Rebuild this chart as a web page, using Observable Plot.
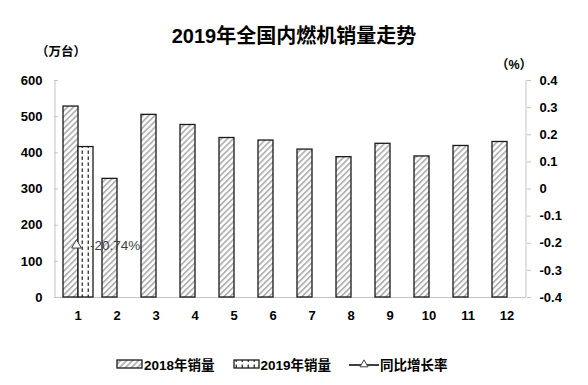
<!DOCTYPE html>
<html><head><meta charset="utf-8">
<script src="https://cdn.jsdelivr.net/npm/d3@7"></script>
<script src="https://cdn.jsdelivr.net/npm/@observablehq/plot@0.6"></script>
<style>
body{margin:0;background:#fff;}
#wrap{position:relative;width:588px;height:385px;font-family:"Liberation Sans","Noto Sans CJK SC",sans-serif;color:#000;}
#wrap svg{position:absolute;left:0;top:0;}
.abs{position:absolute;white-space:nowrap;}
#title{left:0;width:588px;top:20px;text-align:center;font-size:20px;font-weight:bold;}
#unitL{left:36px;top:41px;font-size:12.5px;font-weight:bold;}
#unitR{left:496px;top:54px;font-size:12.5px;font-weight:bold;}
#legend{left:116px;top:354px;font-size:13.5px;font-weight:bold;display:flex;align-items:center;}
#legend .item{display:flex;align-items:center;margin-right:18px;}
#legend svg{position:static;}
</style></head><body>
<div id="wrap">
  <div id="title" class="abs">2019年全国内燃机销量走势</div>
  <div id="unitL" class="abs">（万台）</div>
  <div id="unitR" class="abs">（%）</div>
  <div id="legend" class="abs"></div>
</div>
<script>
const months = ["1","2","3","4","5","6","7","8","9","10","11","12"];
const series = ["2018年销量","2019年销量"];
const sales2018 = [528,328,505,477,441,434,409,388,425,390,419,430];
const sales2019 = [416];
const growth = [-0.2074];
const growthLabel = "同比增长率";
const leftTicks = [0,100,200,300,400,500,600];
const rightTicks = [-0.4,-0.3,-0.2,-0.1,0,0.1,0.2,0.3,0.4];

const yMax = 600, rMin = -0.4, rMax = 0.4;
const toLeft = r => (r - rMin) / (rMax - rMin) * yMax;
const fromLeft = v => v / yMax * (rMax - rMin) + rMin;

const rows2018 = sales2018.map((v,i) => ({month: months[i], series: series[0], value: v}));
const rows2019 = sales2019.map((v,i) => ({month: months[i], series: series[1], value: v}));
const growthRows = growth.map((r,i) => ({month: months[i], rate: r, yv: toLeft(r)}));

const font = '"Liberation Sans","Noto Sans CJK SC",sans-serif';
const axisGray = "#c4c4c4";

const chart = Plot.plot({
  width: 588, height: 385,
  marginTop: 80, marginBottom: 88, marginLeft: 57, marginRight: 62,
  style: {fontFamily: font, background: "transparent", overflow: "visible"},
  fx: {domain: months, padding: 0, label: null, axis: null},
  x: {domain: series, paddingInner: 0, paddingOuter: 0.27, axis: null},
  y: {domain: [0, yMax], axis: null},
  marks: [
    Plot.ruleY([0], {stroke: axisGray, strokeWidth: 1}),
    Plot.barY(rows2018, {fx: "month", x: "series", y: "value", fill: "url(#hatch2018)", stroke: "#1a1a1a", strokeWidth: 1.3}),
    Plot.barY(rows2019, {fx: "month", x: "series", y: "value", fill: "url(#dash2019)", stroke: "#1a1a1a", strokeWidth: 1.3}),
    Plot.dot(growthRows, {fx: "month", y: "yv", dx: -1.5, symbol: "triangle", r: 3.6, stroke: "#404040", strokeWidth: 1, fill: "white"}),
    Plot.text(growthRows, {fx: "month", y: "yv", text: d => (d.rate * 100).toFixed(2) + "%", textAnchor: "start", dx: 12, fontSize: 13.5, fill: "#404040"}),
    Plot.axisY({anchor: "left", ticks: leftTicks, tickSize: 4, tickPadding: 12, stroke: axisGray, fill: "#000", fontSize: 13, fontWeight: "bold", label: null}),
    Plot.axisY({anchor: "right", ticks: rightTicks.map(toLeft), tickFormat: v => String(Number(fromLeft(v).toFixed(1))), tickSize: 4, tickPadding: 9, stroke: axisGray, fill: "#000", fontSize: 13, fontWeight: "bold", label: null}),
    Plot.axisFx({anchor: "bottom", tickSize: 0, tickPadding: 13, fill: "#000", fontSize: 13, fontWeight: "bold", label: null})
  ]
});

const defsHTML = `
<pattern id="hatch2018" patternUnits="userSpaceOnUse" width="4.2" height="4.2" patternTransform="rotate(45)">
  <rect width="4.2" height="4.2" fill="white"/>
  <rect width="1.8" height="4.2" fill="#b3b3b3"/>
</pattern>
<pattern id="dash2019" patternUnits="userSpaceOnUse" width="6" height="6">
  <rect width="6" height="6" fill="white"/>
  <rect x="2.6" y="0.5" width="1.3" height="3.4" fill="#2a2a2a"/>
</pattern>`;
const svg = d3.select(chart);
svg.insert("defs", ":first-child").html(defsHTML);

// axis lines on left and right of the frame
const ys = chart.scale("y");
const yTop = ys.apply(yMax), yBot = ys.apply(0);
[55, 526].forEach(x => {
  svg.append("line").attr("x1", x).attr("x2", x).attr("y1", yTop).attr("y2", yBot)
    .attr("stroke", axisGray).attr("stroke-width", 1);
});

document.getElementById("wrap").appendChild(chart);

// legend
const legend = d3.select("#legend");
function swatch(fillUrl) {
  const s = legend.append("div").attr("class", "item");
  const sv = s.append("svg").attr("width", 28).attr("height", 12);
  sv.append("rect").attr("x", 1).attr("y", 2).attr("width", 25).attr("height", 8)
    .attr("fill", fillUrl).attr("stroke", "#1a1a1a").attr("stroke-width", 1.3);
  return s;
}
swatch("url(#hatch2018)").append("span").text(series[0]);
swatch("url(#dash2019)").append("span").text(series[1]);
const li = legend.append("div").attr("class", "item");
const lsv = li.append("svg").attr("width", 31).attr("height", 12);
lsv.append("line").attr("x1", 0).attr("x2", 30).attr("y1", 7).attr("y2", 7).attr("stroke", "#000").attr("stroke-width", 1.5);
lsv.append("path").attr("d", d3.symbol(d3.symbolTriangle, 28)()).attr("transform", "translate(15,6.5)")
  .attr("fill", "white").attr("stroke", "#404040");
li.append("span").text(growthLabel);
</script>
</body></html>
